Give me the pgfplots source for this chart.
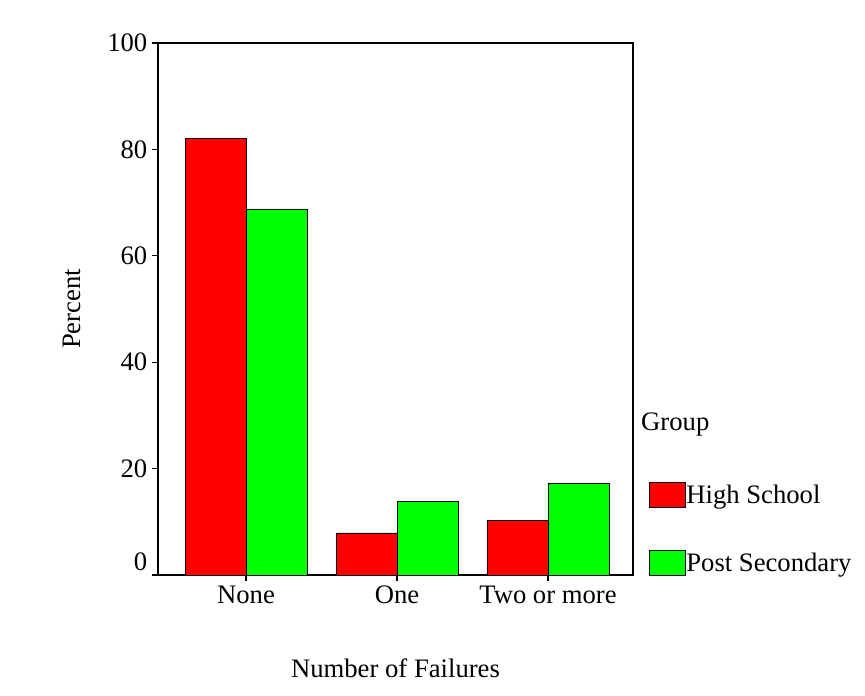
\documentclass[border=0pt]{standalone}
\usepackage{pgfplots}
\pgfplotsset{compat=1.18}
\usepackage{fontspec}
\setmainfont{Liberation Serif}
\definecolor{barred}{RGB}{255,0,0}
\definecolor{bargreen}{RGB}{0,255,0}
\begin{document}
\begin{tikzpicture}[font=\fontsize{20}{24}\selectfont]
\useasboundingbox (-118.5pt,-90.75pt) rectangle (530.25pt,431.25pt);
\begin{axis}[
  at={(0pt,0pt)}, anchor=south west,
  scale only axis, width=356.25pt, height=399pt,
  xmin=-0.583, xmax=2.563, ymin=0, ymax=100,
  ybar=0pt, bar width=0.404,
  xtick={0,1,2}, xticklabels={None,One,Two or more},
  ytick={0,20,40,60,80,100},
  yticklabels={\raisebox{19.5pt}{0},20,40,60,80,100},
  tick align=outside, tick pos=left, major tick length=4.5pt,
  axis line style={line width=1.1pt},
  every tick/.style={black, line width=1pt},
  /pgf/number format/assume math mode=true,
  clip=false,
  ylabel={Percent}, xlabel={Number of Failures},
  ylabel style={at={(rel axis cs:0,0.5)}, yshift=64.5pt, anchor=center},
  xlabel style={at={(rel axis cs:0.5,0)}, yshift=-69.75pt, anchor=center},
  legend style={draw=none, fill=none, at={(rel axis cs:1.0337,0.1748)}, anchor=north west,
    inner sep=0pt, row sep=31pt, nodes={inner sep=0pt, anchor=base west}},
  legend cell align=left,
  legend image code/.code={\draw[#1, line width=0.8pt] (0pt,-3pt) rectangle (27pt,15.75pt);},
]
\addplot[fill=barred, draw=black, line width=0.6pt] coordinates {(0,82.1) (1,7.9) (2,10.3)};
\addplot[fill=bargreen, draw=black, line width=0.6pt] coordinates {(0,68.8) (1,13.9) (2,17.3)};
\legend{High School, Post Secondary}
\node[anchor=base west, inner sep=0pt] at (rel axis cs:1.0168,0.2707) {Group};
\end{axis}
\end{tikzpicture}
\end{document}
